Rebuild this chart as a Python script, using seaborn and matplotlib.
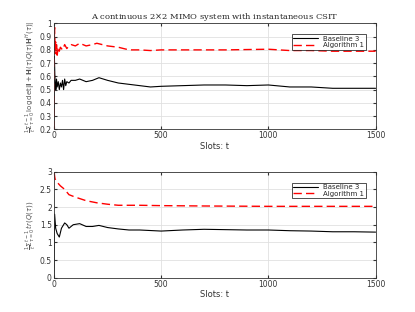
import seaborn as sns
import matplotlib.pyplot as plt
import numpy as np
import pandas as pd

# Top panel: running average of log det rate
top_t = [0, 2, 4, 6, 9, 12, 15, 20, 25, 30, 35, 40, 45, 50, 55, 60, 70, 80, 100, 120, 150,
         180, 210, 250, 300, 350, 400, 450, 500, 600, 700, 800, 900, 1000, 1100, 1200,
         1300, 1400, 1500]
top_base = [0.2, 0.75, 0.62, 0.55, 0.5, 0.58, 0.52, 0.56, 0.5, 0.55, 0.52, 0.57, 0.5, 0.58,
            0.53, 0.56, 0.55, 0.57, 0.57, 0.58, 0.56, 0.57, 0.59, 0.57, 0.55, 0.54, 0.53,
            0.52, 0.525, 0.53, 0.535, 0.535, 0.53, 0.535, 0.52, 0.52, 0.51, 0.51, 0.51]
top_alg_t = [0, 2, 3, 5, 8, 10, 12, 15, 20, 25, 30, 40, 50, 60, 70, 80, 100, 120, 150, 180,
             200, 250, 300, 350, 400, 450, 500, 600, 800, 1000, 1100, 1200, 1300, 1400, 1500]
top_alg = [0.2, 0.9, 0.97, 0.8, 0.86, 0.77, 0.84, 0.76, 0.82, 0.79, 0.82, 0.8, 0.84, 0.81,
           0.83, 0.84, 0.83, 0.85, 0.83, 0.84, 0.85, 0.83, 0.82, 0.8, 0.8, 0.795, 0.8, 0.8,
           0.8, 0.805, 0.795, 0.795, 0.79, 0.79, 0.79]

# Bottom panel: running average of power tr(Q)
bot_t = [0, 3, 8, 15, 25, 35, 50, 60, 70, 90, 120, 150, 180, 210, 250, 300, 350, 400, 500,
         600, 700, 800, 900, 1000, 1100, 1200, 1300, 1400, 1500]
bot_base = [0.0, 1.8, 1.4, 1.25, 1.15, 1.4, 1.55, 1.5, 1.4, 1.5, 1.53, 1.45, 1.45, 1.48,
            1.42, 1.38, 1.35, 1.35, 1.32, 1.35, 1.37, 1.36, 1.35, 1.35, 1.33, 1.32, 1.3,
            1.3, 1.29]
bot_alg_t = [0, 5, 15, 30, 50, 70, 100, 150, 200, 250, 300, 400, 500, 700, 1000, 1500]
bot_alg = [3.0, 2.8, 2.7, 2.6, 2.5, 2.35, 2.28, 2.18, 2.12, 2.08, 2.05, 2.05, 2.04, 2.03,
           2.02, 2.02]

sns.set_style("whitegrid")
plt.rcParams['font.family'] = ['DejaVu Sans']

fig, axes = plt.subplots(2, 1, figsize=(4.15, 3.12), dpi=100)
fig.subplots_adjust(left=0.13, right=0.905, top=0.925, bottom=0.11, hspace=0.4)

panels = [
    (axes[0], top_t, top_base, top_alg_t, top_alg, (0.2, 1.0), np.arange(0.2, 1.01, 0.1),
     r'$\frac{1}{t}\Sigma_{\tau=0}^{t-1}\,\log\det|\mathbf{I}+\mathbf{H}(\tau)Q(\tau)\mathbf{H}^H(\tau)|$'),
    (axes[1], bot_t, bot_base, bot_alg_t, bot_alg, (0, 3), np.arange(0, 3.01, 0.5),
     r'$\frac{1}{t}\Sigma_{\tau=0}^{t-1}\, tr(Q(\tau))$'),
]

for ax, bt, bv, at, av, ylim, yt, ylab in panels:
    sns.lineplot(x=bt, y=bv, ax=ax, color='black', lw=0.8, label='Baseline 3')
    sns.lineplot(x=at, y=av, ax=ax, color='red', lw=1.0, dashes=(6, 3), label='Algorithm 1')
    ax.set_xlim(0, 1500)
    ax.set_ylim(*ylim)
    ax.set_xticks([0, 500, 1000, 1500])
    ax.set_yticks(yt)
    ax.set_yticklabels([f'{v:g}' for v in yt])
    ax.tick_params(axis='both', direction='in', length=2, labelsize=5.5, pad=1.5,
                   top=True, right=True, left=True, bottom=True, colors='#333333')
    ax.grid(True, color='#e0e0e0', lw=0.6)
    for s in ax.spines.values():
        s.set_color('#333333')
        s.set_linewidth(0.6)
    ax.set_xlabel('Slots: t', fontsize=6, labelpad=1, color='#333333')
    ax.set_ylabel(ylab, fontsize=5, labelpad=1, color='#555555')
    leg = ax.legend(loc='upper right', fontsize=5, frameon=True, fancybox=False,
                    borderpad=0.2, handlelength=3.5, labelspacing=0.1,
                    bbox_to_anchor=(0.98, 0.93))
    leg.get_frame().set_edgecolor('black')
    leg.get_frame().set_linewidth(0.6)

axes[0].set_title('A continuous 2$\\times$2 MIMO system with instantaneous CSIT',
                  fontsize=6, family='DejaVu Serif', pad=3)

fig.savefig('out.png', dpi=100, facecolor='white')
